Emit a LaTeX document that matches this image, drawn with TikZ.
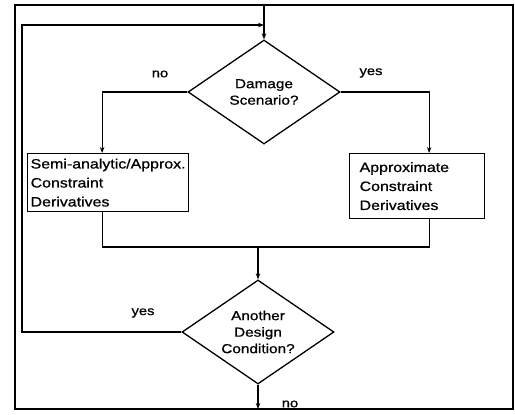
\documentclass[tikz,border=0pt]{standalone}
\usepackage{fontspec}
\setmainfont{Liberation Sans}[FakeStretch=1.18,FakeBold=0.8]
\usetikzlibrary{arrows.meta,positioning,shapes.geometric}

\begin{document}
\begin{tikzpicture}[x=1pt,y=-1pt,line width=1.3pt,>={Stealth[length=6pt,width=4.5pt]},
  decision/.style={draw,diamond,aspect=1.46,minimum width=152pt,minimum height=104pt,
                   inner sep=0pt,align=center,font=\fontsize{13}{16.5}\selectfont},
  derivbox/.style={draw,rectangle,anchor=north west,align=left,inner ysep=3pt,
                   font=\fontsize{13.5}{19}\selectfont},
  answer/.style={font=\fontsize{12.5}{14}\selectfont}]

  \useasboundingbox (0,0) rectangle (515,415);
  \draw (15,5) rectangle (513,409);

  \node[decision] (dmg) at (264,92) {Damage\\Scenario?};

  \node[derivbox,text width=155pt,inner xsep=3pt,minimum height=58pt]
        (semi) at (27,153) {Semi-analytic/Approx.\\Constraint\\Derivatives};

  \node[derivbox,text width=115pt,inner xsep=10pt,minimum height=65pt]
        (approx) at (349,153) {Approximate\\Constraint\\Derivatives};

  \node[decision] (cond) at (258,332) {Another\\Design\\Condition?};

  \coordinate (entry) at (264,5);
  \coordinate (join) at (264,25);
  \coordinate (loopx) at (22,25);
  \coordinate (merge) at (258,247);
  \coordinate (exit) at (258,409);

  \node[answer] (dmgno) at (160,74) {no};
  \node[answer] (dmgyes) at (371,73) {yes};
  \node[answer] (condyes) at (143,313) {yes};
  \node[answer] (condno) at (290,404) {no};

  \draw[->] (entry) -- (dmg.north);
  \draw[->] (cond.west) -| (loopx) -- (join);
  \draw[->] (dmg.west) -| ([xshift=-6pt]semi.north);
  \draw[->] (dmg.east) -| ([xshift=12pt]approx.north);
  \draw ([xshift=-6pt]semi.south) |- (merge) -| ([xshift=12pt]approx.south);
  \draw[->] (merge) -- (cond.north);
  \draw[->] (cond.south) -- (exit);

\end{tikzpicture}
\end{document}
